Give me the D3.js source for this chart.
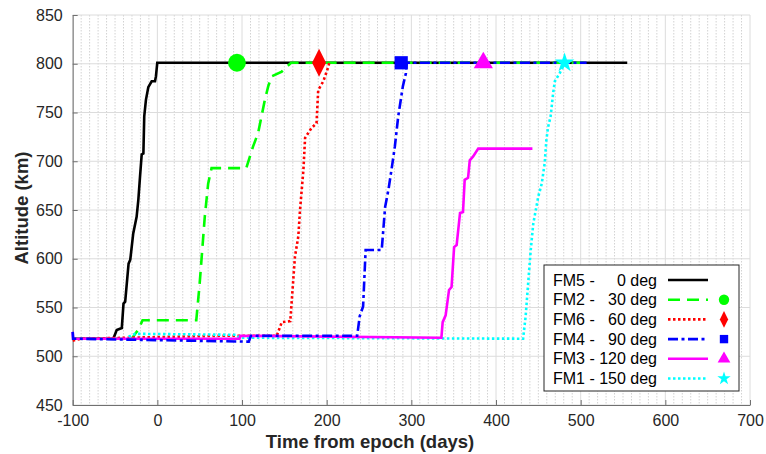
<!DOCTYPE html>
<html>
<head>
<meta charset="utf-8">
<script src="https://cdn.jsdelivr.net/npm/d3@7"></script>
<style>
  body { margin: 0; background: #fff; }
  text { font-family: "Liberation Sans", Arial, sans-serif; }
</style>
</head>
<body>
<div id="chart"></div>
<script>
// series: time from epoch (days) and altitude (km)
var fm5Days = [-100, -52, -48, -42, -40, -38, -34, -32, -28.5, -24.5, -22.5, -20.5, -18.5, -16.5, -15.5, -13.5, -10.7, -6.7, -2.8, -1.7, -0.1, 555];
var fm5Alt  = [518, 518, 527, 529, 554, 556, 595, 599, 626, 643, 660, 684, 707, 708, 746, 763, 776, 782, 782, 787, 801, 801];

var fm2Days = [-100, -30, -27, -22, -17.5, 46, 50, 56, 60, 64, 105, 113, 119, 123, 127, 131, 135, 147, 153, 158, 507];
var fm2Alt  = [518, 518, 522, 528, 537, 537, 575, 643, 677, 693, 693, 715, 729, 746, 763, 777, 787, 792, 797, 801, 801];

var fm6Days = [-100, -90, 75, 141, 147, 157, 162.5, 166.5, 168.5, 172.5, 174.5, 182, 188, 190, 196, 202, 203];
var fm6Alt  = [516, 518, 521, 521, 535, 536, 602, 623, 650, 691, 724, 734, 739, 773, 782, 797, 801];

var fm4Days = [-100, -99.5, 105, 108, 110.5, 236, 239, 243, 246, 265, 269, 273, 277, 280.5, 284.5, 290, 293.5, 294.5, 507];
var fm4Alt  = [525, 518, 515, 515, 521, 521, 541, 551, 609, 609, 653, 671, 694, 715, 746, 777, 790, 801, 801];

var fm3Days = [-100, -99.5, 97, 98, 335.5, 337, 340.5, 344.5, 347.5, 350.5, 353.5, 357.5, 361, 363, 367, 369, 373, 379, 443];
var fm3Alt  = [525, 518, 518, 521, 519, 535, 542, 568, 571, 612, 614, 647, 648, 681, 683, 701, 705, 713, 713];

var fm1Days = [-34, -26, 93, 97, 432, 435, 438, 441, 444, 450, 454, 457.5, 459.5, 461.5, 464.5, 467.5, 469.5, 475, 481];
var fm1Alt  = [520, 523, 522, 519, 518, 541, 575, 609, 636, 664, 677, 698, 722, 735, 746, 770, 782, 790, 800];

var markerDays = [94, 191, 288, 385, 481];
var markerAlt  = [801, 801, 801, 801, 801];

var names   = ["FM5 -", "FM2 -", "FM6 -", "FM4 -", "FM3 -", "FM1 -"];
var degs    = ["0 deg", "30 deg", "60 deg", "90 deg", "120 deg", "150 deg"];
var xTicks  = [-100, 0, 100, 200, 300, 400, 500, 600, 700];
var yTicks  = [450, 500, 550, 600, 650, 700, 750, 800, 850];

(function(){
var width = 766, height = 454;
var mLeft = 72.7, mRight = 750, mTop = 15, mBottom = 405;

var svg = d3.select("#chart").append("svg")
    .attr("width", width).attr("height", height);

var x = d3.scaleLinear().domain([-100, 700]).range([mLeft, mRight]);
var y = d3.scaleLinear().domain([450, 850]).range([mBottom, mTop]);

/* grid */
var minor = d3.range(-90, 700, 10).filter(function(d){ return d % 100 !== 0; });
svg.append("g").selectAll("line").data(minor).enter().append("line")
    .attr("x1", d => x(d)).attr("x2", d => x(d))
    .attr("y1", mTop).attr("y2", mBottom)
    .attr("stroke", "#d2d2d2").attr("stroke-dasharray", "1.5,1.5");
svg.append("g").selectAll("line").data(xTicks).enter().append("line")
    .attr("x1", d => x(d)).attr("x2", d => x(d))
    .attr("y1", mTop).attr("y2", mBottom)
    .attr("stroke", "#dcdcdc");
svg.append("g").selectAll("line").data(yTicks).enter().append("line")
    .attr("x1", mLeft).attr("x2", mRight)
    .attr("y1", d => y(d)).attr("y2", d => y(d))
    .attr("stroke", "#dcdcdc");

/* axes */
var xAxis = d3.axisBottom(x).tickValues(xTicks).tickFormat(d => String(d))
    .tickSizeInner(-5).tickSizeOuter(0).tickPadding(10);
var yAxis = d3.axisLeft(y).tickValues(yTicks).tickFormat(d => String(d))
    .tickSizeInner(-5).tickSizeOuter(0).tickPadding(10);

var gx = svg.append("g").attr("transform", "translate(0," + mBottom + ")").call(xAxis);
var gy = svg.append("g").attr("transform", "translate(" + mLeft + ",0)").call(yAxis);
[gx, gy].forEach(function(g){
    g.select(".domain").attr("stroke", "#707070");
    g.selectAll(".tick line").attr("stroke", "#707070");
    g.selectAll("text").attr("font-size", 16).attr("fill", "#262626")
        .style("font-family", "'Liberation Sans', Arial, sans-serif");
});

svg.append("text").attr("x", 370).attr("y", 448)
    .attr("text-anchor", "middle").attr("font-size", 18.5).attr("font-weight", "bold")
    .attr("fill", "#262626").text("Time from epoch (days)");
svg.append("text").attr("transform", "translate(28,208) rotate(-90)")
    .attr("text-anchor", "middle").attr("font-size", 18.5).attr("font-weight", "bold")
    .attr("fill", "#262626").text("Altitude (km)");

/* series */
var series = [
  {days: fm5Days, alt: fm5Alt, color: "#000000", dash: null,        shape: null},
  {days: fm2Days, alt: fm2Alt, color: "#00ff00", dash: "12,7",      shape: d3.symbolCircle},
  {days: fm6Days, alt: fm6Alt, color: "#ff0000", dash: "2.5,2.5",   shape: d3.symbolDiamond},
  {days: fm4Days, alt: fm4Alt, color: "#0000ff", dash: "10,3.5,3,3.5", shape: d3.symbolSquare},
  {days: fm3Days, alt: fm3Alt, color: "#ff00ff", dash: null,        shape: d3.symbolTriangle},
  {days: fm1Days, alt: fm1Alt, color: "#00ffff", dash: "2.5,2.5",   shape: d3.symbolStar}
];
var drawOrder = [0, 1, 2, 5, 4, 3];

var line = d3.line().x(d => x(d[0])).y(d => y(d[1]));

var plot = svg.append("g");
drawOrder.forEach(function(i){
    var s = series[i];
    plot.append("path")
        .datum(d3.zip(s.days, s.alt))
        .attr("d", line)
        .attr("fill", "none")
        .attr("stroke", s.color)
        .attr("stroke-width", 2.6)
        .attr("stroke-dasharray", s.dash);
});

var bigSize = [0, 250, 170, 175, 160, 120];
series.forEach(function(s, i){
    if (!s.shape) return;
    var k = i - 1;
    var sym = d3.symbol().type(s.shape).size(bigSize[i]);
    var tr = "translate(" + x(markerDays[k]) + "," + y(markerAlt[k]) + ")";
    if (s.shape === d3.symbolDiamond) tr += " scale(1,1.15)";
    plot.append("path").attr("d", sym).attr("transform", tr).attr("fill", s.color);
});

/* legend */
var lg = svg.append("g");
lg.append("rect").attr("x", 544).attr("y", 265).attr("width", 195).attr("height", 126)
    .attr("fill", "#fff").attr("stroke", "#262626").attr("stroke-width", 1);
var smallSize = [0, 85, 60, 70, 70, 55];
series.forEach(function(s, i){
    var cy = 280 + i * 19.7;
    lg.append("text").attr("x", 553).attr("y", cy + 5.5).attr("font-size", 16)
        .attr("fill", "#000").text(names[i]);
    lg.append("text").attr("x", 657).attr("y", cy + 5.5).attr("font-size", 16)
        .attr("text-anchor", "end").attr("fill", "#000").text(degs[i]);
    lg.append("line").attr("x1", 668).attr("x2", 708).attr("y1", cy).attr("y2", cy)
        .attr("stroke", s.color).attr("stroke-width", 2.6).attr("stroke-dasharray", s.dash);
    if (s.shape) {
        var tr = "translate(724," + cy + ")";
        if (s.shape === d3.symbolDiamond) tr += " scale(1,1.15)";
        lg.append("path").attr("d", d3.symbol().type(s.shape).size(smallSize[i]))
            .attr("transform", tr).attr("fill", s.color);
    }
});
})();
</script>
</body>
</html>
